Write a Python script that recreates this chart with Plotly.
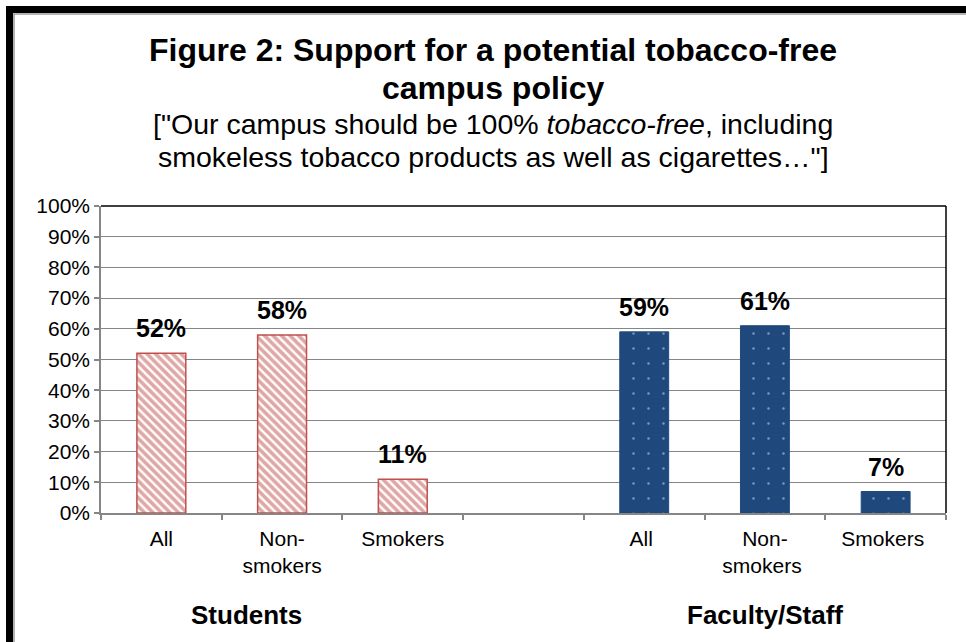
import plotly.graph_objects as go

categories = ["All", "Non-<br>smokers", "Smokers", " ", "All ", "Non-<br>smokers ", "Smokers "]
student_cats = ["All", "Non-<br>smokers", "Smokers"]
student_vals = [0.52, 0.58, 0.11]
staff_cats = ["All ", "Non-<br>smokers ", "Smokers "]
staff_vals = [0.59, 0.61, 0.07]
student_labels = ["52%", "58%", "11%"]
staff_labels = ["59%", "61%", "7%"]

FONT = "Liberation Sans, Arial, sans-serif"
W, H = 966, 642
L, R, T, B = 101, 20, 206, 129
PW = W - L - R
PH = H - T - B

def px(x):
    return (x - L) / PW

def py(y):
    return (H - B - y) / PH

RED = "#C0504D"
NAVY = "#1F497D"
GRID = "#868686"

fig = go.Figure()
fig.add_trace(go.Bar(
    x=student_cats, y=student_vals, width=0.405,
    marker=dict(color="white", line=dict(color=RED, width=1.5),
                pattern=dict(shape="\\", fgcolor=RED, bgcolor="white", size=6, solidity=0.6)),
    hoverinfo="skip", showlegend=False))
fig.add_trace(go.Bar(
    x=staff_cats, y=staff_vals, width=0.405,
    marker=dict(color=NAVY, line=dict(color=NAVY, width=1),
                pattern=dict(shape=".", fgcolor="#E4EAF5", bgcolor=NAVY, size=15, solidity=0.02)),
    hoverinfo="skip", showlegend=False))

annotations = []
for c, v, t in list(zip(student_cats, student_vals, student_labels)) + list(zip(staff_cats, staff_vals, staff_labels)):
    annotations.append(dict(x=c, y=v, xref="x", yref="y", text=t, showarrow=False,
                            yanchor="middle", yshift=25,
                            font=dict(family=FONT, size=25, color="black", weight="bold")))

def text_ann(text, x, y, size, bold=False):
    return dict(x=px(x), y=py(y), xref="paper", yref="paper", text=text, showarrow=False,
                xanchor="center", yanchor="middle",
                font=dict(family=FONT, size=size, color="black", weight="bold" if bold else "normal"))

annotations += [
    text_ann("Figure 2: Support for a potential tobacco-free", 493, 50, 32, True),
    text_ann("campus policy", 493, 88, 32, True),
    text_ann('["Our campus should be 100% <i>tobacco-free</i>, including', 493, 124, 28.5),
    text_ann('smokeless tobacco products as well as cigarettes…"]', 493, 157, 28.5),
    text_ann("Students", 246, 615, 26, True),
    text_ann("Faculty/Staff", 765, 615, 26, True),
]

shapes = [
    dict(type="line", xref="paper", yref="paper", x0=0, x1=1, y0=1, y1=1,
         line=dict(color="black", width=1.5)),
    dict(type="line", xref="paper", yref="paper", x0=1, x1=1, y0=0, y1=1,
         line=dict(color="black", width=1.5)),
    dict(type="path", xref="paper", yref="paper",
         path=f"M {px(9.5)} {py(660)} L {px(9.5)} {py(9.5)} L {px(990)} {py(9.5)}",
         line=dict(color="black", width=7)),
    dict(type="path", xref="paper", yref="paper",
         path=f"M {px(14)} {py(660)} L {px(14)} {py(14)} L {px(990)} {py(14)}",
         line=dict(color="#9A9A9A", width=1.5)),
]

fig.update_layout(
    width=W, height=H,
    margin=dict(l=L, r=R, t=T, b=B, pad=0),
    paper_bgcolor="white", plot_bgcolor="white",
    barmode="overlay",
    font=dict(family=FONT, color="black"),
    annotations=annotations,
    shapes=shapes,
    xaxis=dict(type="category", categoryorder="array", categoryarray=categories,
               range=[-0.5, 6.5], tickson="boundaries", ticks="outside", ticklen=5,
               tickcolor=GRID, tickwidth=1.5, showline=True, linecolor=GRID, linewidth=1.5,
               showgrid=False, ticklabelstandoff=6,
               tickfont=dict(family=FONT, size=21, color="black"), fixedrange=True),
    yaxis=dict(range=[0, 1], dtick=0.1, tick0=0, tickformat=".0%", ticks="outside", ticklen=5,
               tickcolor=GRID, tickwidth=1.5, showline=True, linecolor=GRID, linewidth=1.5,
               showgrid=True, gridcolor=GRID, gridwidth=1.2, zeroline=False,
               tickfont=dict(family=FONT, size=21, color="black"), fixedrange=True),
)

fig.write_html("out.html", config={"displayModeBar": False},
               post_script="document.body.style.margin='0';")
